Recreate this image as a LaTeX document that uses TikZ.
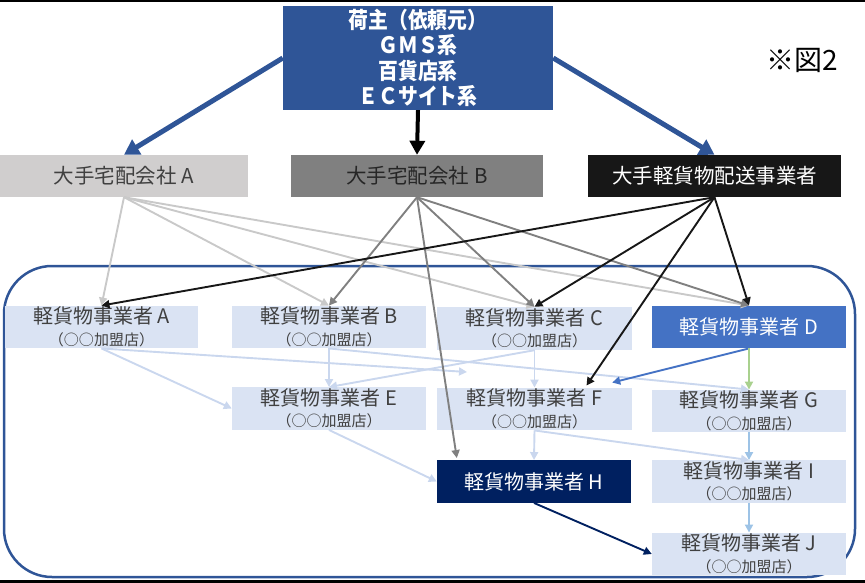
\documentclass[tikz,border=0pt]{standalone}
\usepackage{fontspec}
\setmainfont{Noto Sans CJK JP}
\newfontfamily\jpcond[FakeStretch=0.88]{Noto Sans CJK JP}
\usetikzlibrary{arrows.meta,calc}
\definecolor{topblue}{HTML}{2F5597}
\definecolor{lgray}{HTML}{D0CECE}
\definecolor{lgline}{HTML}{C9C9C9}
\definecolor{mgray}{HTML}{808080}
\definecolor{nblack}{HTML}{171717}
\definecolor{pale}{HTML}{DAE3F3}
\definecolor{paleline}{HTML}{CAD7EE}
\definecolor{dblue}{HTML}{4472C4}
\definecolor{navy}{HTML}{002060}
\definecolor{lgreen}{HTML}{A9D18E}
\definecolor{skyb}{HTML}{9DC3E6}
\definecolor{tgray}{HTML}{404040}
\begin{document}
\begin{tikzpicture}[x=1pt,y=-1pt,
  topbox/.style={fill=topblue,text=white,minimum width=270,minimum height=104,inner sep=0,align=center,
    font=\jpcond\bfseries\fontsize{22.5}{25.5}\selectfont},
  tier/.style={minimum height=42,inner sep=0,align=center,font=\fontsize{20.5}{22}\selectfont},
  opbox/.style={fill=pale,text=tgray,minimum width=194,minimum height=42.5,inner sep=0,align=center,
    font=\fontsize{20}{21.5}\selectfont},
  bigarrow/.style={topblue,line width=5,-{Triangle[length=15,width=17]}},
  conn/.style={line width=1.9,-{Triangle[length=8,width=8]}},
]
\useasboundingbox (0,0) rectangle (865,583);
\fill[black] (0,0) rectangle (865,2.5);
\fill[black] (0,580) rectangle (865,583);
% container
\draw[topblue,line width=2.5,rounded corners=48] (4,266) rectangle (855,577);
% top
\node[topbox] (top) at (418,58) {荷主（依頼元）\\ＧＭＳ系\\百貨店系\\ＥＣサイト系};
\node[font=\fontsize{28}{30}\selectfont] (fig) at (802,60) {※図2};
% tier
\node[tier,fill=lgray,text=tgray,minimum width=248] (ta) at (124,176) {大手宅配会社 A};
\node[tier,fill=mgray,text=black!85,minimum width=252] (tb) at (417,176) {大手宅配会社 B};
\node[tier,fill=nblack,text=white,minimum width=253] (tl) at (714.5,176) {大手軽貨物配送事業者};
% operators
\newcommand{\sublabel}{\\{\fontsize{15}{21.5}\selectfont （○○加盟店）}}
\node[opbox,minimum width=193] (nA) at (101.5,327) {軽貨物事業者 A\sublabel};
\node[opbox] (nB) at (329,327) {軽貨物事業者 B\sublabel};
\node[opbox,minimum width=195,minimum height=43] (nC) at (534.5,328.5) {軽貨物事業者 C\sublabel};
\node[opbox,fill=dblue,text=white] (nD) at (749,327) {軽貨物事業者 D};
\node[opbox] (nE) at (329,408.5) {軽貨物事業者 E\sublabel};
\node[opbox,minimum width=195] (nF) at (534.5,409) {軽貨物事業者 F\sublabel};
\node[opbox] (nG) at (749,411) {軽貨物事業者 G\sublabel};
\node[opbox,fill=navy,text=white] (nH) at (534,481.5) {軽貨物事業者 H};
\node[opbox] (nI) at (749,481.5) {軽貨物事業者 I\sublabel};
\node[opbox] (nJ) at (749,554) {軽貨物事業者 J\sublabel};
\coordinate (free) at (467,372);
% top arrows
\draw[bigarrow] (top.west) -- (ta.north);
\draw[bigarrow] (top.east) -- (tl.north);
\draw[black,line width=4,-{Triangle[length=14,width=15]}] (top.south) -- (tb.north);
% light blue lines among operators
\draw[conn,paleline] (nA.south) -- (nE.west);
\draw[conn,paleline] (nA.south) -- (free);
\draw[conn,paleline] (nB.south) -- (nE.north);
\draw[conn,paleline] (nB.south) -- (nG.north);
\draw[conn,paleline] (nC.south) -- (nE.north);
\draw[conn,paleline] (nC.south) -- (nF.north);
\draw[conn,paleline] (nE.south) -- (nH.west);
\draw[conn,paleline] (nF.south) -- (nH.north);
\draw[conn,paleline] (nF.south) -- (nI.north);
% from A
\draw[conn,lgline] (ta.south) -- (nA.north);
\draw[conn,lgline] (ta.south) -- (nB.north);
\draw[conn,lgline] (ta.south) -- (nC.north);
\draw[conn,lgline] (ta.south) -- (nD.north);
% from B
\draw[conn,mgray] (tb.south) -- (nB.north);
\draw[conn,mgray] (tb.south) -- (nC.north);
\draw[conn,mgray] (tb.south) -- (nD.north);
\draw[conn,mgray] (tb.south) -- ($(nH.north west)+(20,-2)$);
% from large light-cargo
\draw[conn,nblack] (tl.south) -- (nA.north);
\draw[conn,nblack] (tl.south) -- (nC.north);
\draw[conn,nblack] (tl.south) -- ($(nF.north)+(52,-2)$);
\draw[conn,nblack] (tl.south) -- (nD.north);
% D and right column
\draw[conn,dblue] (nD.south) -- ($(nF.north east)+(-20,-5)$);
\draw[conn,lgreen] (nD.south) -- (nG.north);
\draw[conn,skyb] (nG.south) -- (nI.north);
\draw[conn,skyb] (nI.south) -- (nJ.north);
\draw[conn,navy] (nH.south) -- (nJ.west);
\end{tikzpicture}
\end{document}
